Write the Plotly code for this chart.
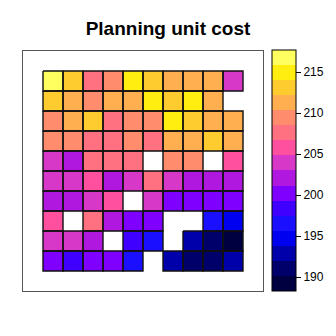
import numpy as np
import plotly.graph_objects as go

nan = np.nan

# Planning unit cost per grid cell (rows listed top to bottom, columns left to right)
cost_rows = [
    [217.7, 213.0, 207.8, 209.6, 215.2, 213.4, 211.5, 211.1, 211.8, 204.1],
    [213.3, 211.6, 209.2, 211.0, 211.4, 215.0, 212.8, 214.7, 211.2, nan],
    [209.5, 211.7, 213.2, 207.4, 209.8, 209.3, 215.3, 213.0, 211.6, 211.3],
    [209.8, 209.4, 207.7, 207.5, 209.6, 207.8, 211.4, 211.2, 212.9, 211.5],
    [203.8, 202.3, 207.3, 207.9, 207.6, nan, 209.7, 209.5, nan, 205.9],
    [204.0, 203.7, 205.6, 202.1, 203.9, 207.5, 203.8, 202.2, 201.9, 202.4],
    [202.0, 202.3, 204.1, 205.8, nan, 203.6, 200.4, 200.1, 200.6, 200.3],
    [205.5, nan, 207.6, 202.2, 200.5, 200.1, nan, nan, 196.4, 194.8],
    [203.9, 204.2, 202.0, nan, 198.5, 196.7, nan, 192.9, 190.9, 188.3],
    [200.3, 198.2, 200.6, 200.2, 196.6, nan, 193.1, 191.2, 190.8, 192.7],
]

# Palette bands, lowest to highest cost
band_colors = [
    "#000040", "#00006a", "#0000aa", "#0000f0", "#1a10ff", "#4000ff",
    "#8000ff", "#b018e0", "#d838c8", "#ff50a0", "#ff7080", "#ff8c6c",
    "#ffae50", "#ffcc30", "#ffee10", "#ffff60",
]

colorbar_ticks = [190, 195, 200, 205, 210, 215]

z = np.array(cost_rows, dtype=float)
nrows, ncols = z.shape
zmin, zmax = np.nanmin(z), np.nanmax(z)

nb = len(band_colors)
colorscale = []
for i, c in enumerate(band_colors):
    colorscale.append([i / nb, c])
    colorscale.append([(i + 1) / nb, c])

xs = list(range(ncols))
ys = list(range(nrows))

heat = go.Heatmap(
    z=z, x=xs, y=ys,
    zmin=zmin, zmax=zmax,
    colorscale=colorscale,
    hoverinfo="skip",
    colorbar=dict(
        x=272 / 336, xanchor="left", xref="paper",
        y=(336 - 50) / 336, yanchor="top", yref="paper",
        thickness=24, thicknessmode="pixels",
        len=241, lenmode="pixels",
        xpad=0, ypad=0,
        outlinewidth=1, outlinecolor="black",
        tickvals=colorbar_ticks,
        ticks="outside", ticklen=5, tickwidth=1, tickcolor="black",
        tickfont=dict(family="Liberation Sans, Arial, sans-serif", size=12, color="black"),
    ),
)

# Cell outlines for every cell holding a value
bx, by = [], []
for r in range(nrows):
    for c in range(ncols):
        if np.isnan(z[r, c]):
            continue
        x0, x1 = c - 0.5, c + 0.5
        y0, y1 = r - 0.5, r + 0.5
        bx += [x0, x1, x1, x0, x0, None]
        by += [y0, y0, y1, y1, y0, None]

borders = go.Scatter(
    x=bx, y=by, mode="lines",
    line=dict(color="#111111", width=1.4),
    hoverinfo="skip", showlegend=False,
)

fig = go.Figure([heat, borders])

axis_common = dict(
    showgrid=False, zeroline=False, showticklabels=False, ticks="",
    showline=True, mirror=True, linecolor="#555555", linewidth=1,
)

fig.update_layout(
    width=336, height=336,
    margin=dict(l=0, r=0, t=0, b=0),
    paper_bgcolor="white", plot_bgcolor="white",
    title=dict(
        text="<b>Planning unit cost</b>",
        x=168 / 336, xanchor="center", xref="paper",
        y=1 - 28 / 336, yanchor="middle", yref="paper",
        font=dict(family="Liberation Sans, Arial, sans-serif", size=19, color="black"),
    ),
    xaxis=dict(domain=[23 / 336, 263 / 336], range=[-1.5, ncols + 0.5], **axis_common),
    yaxis=dict(domain=[45 / 336, 285 / 336], range=[nrows + 0.5, -1.5], **axis_common),
    showlegend=False,
)

fig.write_html("out.html")
